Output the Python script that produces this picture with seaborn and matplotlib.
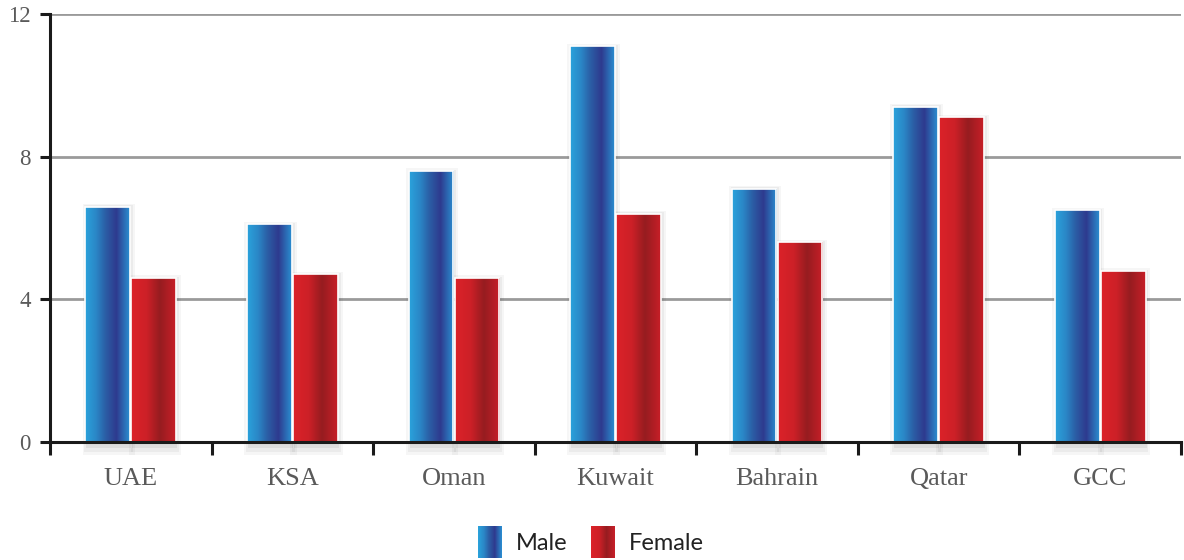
import numpy as np
import pandas as pd
import matplotlib
matplotlib.use("Agg")
import matplotlib.pyplot as plt
import seaborn as sns
from matplotlib.colors import LinearSegmentedColormap
from matplotlib.patches import Rectangle
from matplotlib.legend_handler import HandlerBase

# Data
regions = ["UAE", "KSA", "Oman", "Kuwait", "Bahrain", "Qatar", "GCC"]
male = [6.6, 6.1, 7.6, 11.1, 7.1, 9.4, 6.5]
female = [4.6, 4.7, 4.6, 6.4, 5.6, 9.1, 4.8]
series = ["Male", "Female"]
y_ticks = [0, 4, 8, 12]

df = pd.DataFrame({
    "region": regions * 2,
    "value": male + female,
    "sex": ["Male"] * len(regions) + ["Female"] * len(regions),
})

# Horizontal gradients for the bars
grad_stops = {
    "Male": [(0.0, "#2aa3dc"), (0.25, "#2a86c6"), (0.45, "#2b5fa6"),
             (0.70, "#2e3a8e"), (1.0, "#2a90d2")],
    "Female": [(0.0, "#dc2229"), (0.35, "#cc2027"), (0.65, "#961c20"),
               (1.0, "#c81f28")],
}
cmaps = {k: LinearSegmentedColormap.from_list(k, v) for k, v in grad_stops.items()}
mid_colors = {"Male": "#2e4a9e", "Female": "#b21e25"}

sns.set_theme(style="white")
plt.rcParams["font.family"] = ["Liberation Serif", "DejaVu Serif"]

fig = plt.figure(figsize=(11.84, 5.60), dpi=100)
ax = fig.add_axes([50 / 1184, 1 - 442 / 560, 1131 / 1184, 428 / 560])

sns.barplot(data=df, x="region", y="value", hue="sex", hue_order=series,
            order=regions, palette=mid_colors, width=0.57, gap=0.03,
            edgecolor="white", linewidth=1.2, legend=False, ax=ax, zorder=3)

# Replace flat fills with gradients clipped to each bar
grad = np.linspace(0, 1, 256).reshape(1, -1)
n = len(regions)
for i, patch in enumerate(list(ax.patches)):
    key = series[i // n]
    x0, y0 = patch.get_x(), patch.get_y()
    w, h = patch.get_width(), patch.get_height()
    # soft drop shadow around and beneath the bar
    for k, a in enumerate([0.035, 0.045, 0.06]):
        grow = 0.012 * (2 - k)
        sh = Rectangle((x0 - grow + 0.006, -0.36 + 0.09 * k),
                       w + 2 * grow, h + 0.36 - 0.09 * k + grow * 3,
                       facecolor="black", alpha=a, edgecolor="none", zorder=2,
                       clip_on=False)
        ax.add_patch(sh)
    img = ax.imshow(grad, cmap=cmaps[key], aspect="auto",
                    extent=(x0, x0 + w, y0, y0 + h), zorder=3.5,
                    interpolation="bilinear")
    img.set_clip_path(patch)
    patch.set_facecolor("none")
    patch.set_zorder(4)

ax.set_xlim(-0.5, len(regions) - 0.5)
ax.set_ylim(0, 12)

# Grid and spines
ax.set_yticks(y_ticks)
ax.set_yticklabels([str(t) for t in y_ticks])
for t in y_ticks[1:]:
    ax.axhline(t, color="#9a9a9a", lw=2.0, zorder=1)
for s in ["top", "right"]:
    ax.spines[s].set_visible(False)
ax.spines["left"].set_color("#1a1a1a")
ax.spines["left"].set_linewidth(2.2)
ax.spines["bottom"].set_color("#1a1a1a")
ax.spines["bottom"].set_linewidth(2.2)
ax.spines["bottom"].set_zorder(5)

# Boundary ticks on the x axis, labels centred in each category
ax.set_xticks(np.arange(-0.5, len(regions), 1.0))
ax.set_xticklabels([])
ax.set_xticks(np.arange(len(regions)), minor=True)
ax.set_xticklabels(regions, minor=True)
ax.tick_params(axis="x", which="major", length=9, width=2.2, color="#1a1a1a",
               direction="out", bottom=True)
ax.tick_params(axis="x", which="minor", length=0, pad=19, labelsize=19,
               labelcolor="#5a5a5a")
ax.tick_params(axis="y", length=7, width=2.2, color="#1a1a1a", direction="out",
               left=True, labelsize=16.5, labelcolor="#5a5a5a", pad=7)
ax.set_xlabel("")
ax.set_ylabel("")
ax.grid(False)


class GradientHandler(HandlerBase):
    def __init__(self, cmap):
        super().__init__()
        self.cmap = cmap

    def create_artists(self, legend, orig_handle, xdescent, ydescent, width,
                       height, fontsize, trans):
        arts = []
        steps = 24
        for j in range(steps):
            r = Rectangle((-xdescent + width * j / steps, -ydescent - 4),
                          width / steps + 0.3, height + 8,
                          facecolor=self.cmap((j + 0.5) / steps),
                          edgecolor="none", transform=trans)
            arts.append(r)
        return arts


handles = [Rectangle((0, 0), 1, 1) for _ in series]
handler_map = {h: GradientHandler(cmaps[s]) for h, s in zip(handles, series)}
fig.legend(handles, series, handler_map=handler_map, loc="center",
           bbox_to_anchor=(591 / 1184, 1 - 543 / 560), ncol=2, frameon=False,
           prop={"family": "Lato", "size": 17}, handlelength=1.0,
           handleheight=1.0, handletextpad=0.6, columnspacing=1.0,
           labelcolor="#222222")

fig.savefig("out.png", dpi=100)
